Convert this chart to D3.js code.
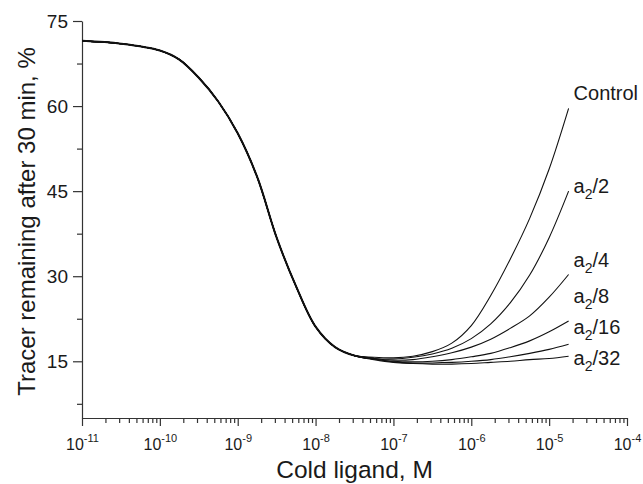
<!DOCTYPE html>
<html>
<head>
<meta charset="utf-8">
<script src="https://cdn.jsdelivr.net/npm/d3@7"></script>
<style>
body { margin: 0; background: #fff; }
text { font-family: "Liberation Sans", Arial, sans-serif; fill: #1a1a1a; }
.axis path, .axis line { stroke: #333; stroke-width: 1.2; }
</style>
</head>
<body>
<div id="chart"></div>
<script>
// part shared by every curve (log10 of cold ligand, M)
const sharedLog = [-11, -10.5, -10, -9.75, -9.5, -9.25, -9, -8.75, -8.5, -8.25, -8, -7.75, -7.5];
const sharedVal = [71.5, 71.0, 69.8, 68.2, 65.0, 60.8, 55.2, 47.5, 36.8, 28.2, 21.1, 17.5, 16.0];

// where the curves split apart
const tailLog = [-7.25, -7, -6.75, -6.5, -6.25, -6, -5.75, -5.5, -5.25, -5, -4.75];
const control = [15.7, 15.6, 15.9, 16.7, 18.2, 21.3, 26.6, 33.0, 40.2, 48.9, 59.6];
const a2by2   = [15.5, 15.4, 15.7, 16.3, 17.3, 19.0, 21.6, 25.3, 30.2, 36.8, 45.0];
const a2by4   = [15.5, 15.2, 15.3, 15.8, 16.5, 17.5, 18.9, 20.8, 23.0, 26.3, 30.3];
const a2by8   = [15.4, 15.0, 14.9, 15.0, 15.3, 15.8, 16.4, 17.4, 18.6, 20.2, 22.1];
const a2by16  = [15.4, 14.9, 14.7, 14.7, 14.8, 15.0, 15.3, 15.8, 16.4, 17.1, 18.0];
const a2by32  = [15.3, 14.8, 14.6, 14.5, 14.5, 14.6, 14.8, 15.0, 15.3, 15.5, 15.9];

const seriesNames = ['Control', '2', '4', '8', '16', '32'];
const seriesVals = [control, a2by2, a2by4, a2by8, a2by16, a2by32];
// label baselines in data units
const labelVal = [61.1, 44.7, 31.6, 25.3, 19.8, 14.3];

const yMajor = [15, 30, 45, 60, 75];
const yMinor = [7.5, 22.5, 37.5, 52.5, 67.5];
const xDecades = [-11, -10, -9, -8, -7, -6, -5, -4];

const width = 643;
const height = 484;
const margin = {top: 21, right: 16, bottom: 66, left: 82};

const svg = d3.select('#chart')
    .append('svg')
    .attr('width', width)
    .attr('height', height);

const x = d3.scaleLog()
    .domain([1e-11, 1e-4])
    .range([margin.left, width - margin.right]);

const y = d3.scaleLinear()
    .domain([5, 75])
    .range([height - margin.bottom, margin.top]);

// minor ticks on x: 2..9 in every decade
const xMinor = [];
xDecades.slice(0, -1).forEach(e => {
    for (let k = 2; k <= 9; k++) xMinor.push(k * Math.pow(10, e));
});

// y axis
svg.append('g')
    .attr('class', 'axis')
    .attr('transform', `translate(${margin.left},0)`)
    .call(d3.axisLeft(y).tickValues(yMinor).tickSize(5).tickFormat(''))
    .call(g => g.select('.domain').remove());

const yAxis = svg.append('g')
    .attr('class', 'axis')
    .attr('transform', `translate(${margin.left},0)`)
    .call(d3.axisLeft(y).tickValues(yMajor).tickSize(9).tickSizeOuter(0).tickPadding(5));
yAxis.selectAll('text')
    .style('font-size', '19px')
    .attr('fill', '#1a1a1a');

// x axis
svg.append('g')
    .attr('class', 'axis')
    .attr('transform', `translate(0,${y(5)})`)
    .call(d3.axisBottom(x).tickValues(xMinor).tickSize(5).tickFormat(''))
    .call(g => g.select('.domain').remove());

const xAxis = svg.append('g')
    .attr('class', 'axis')
    .attr('transform', `translate(0,${y(5)})`)
    .call(d3.axisBottom(x)
        .tickValues(xDecades.map(e => Math.pow(10, e)))
        .tickSize(8)
        .tickSizeOuter(0)
        .tickFormat(''));

xAxis.selectAll('.tick').each(function(d, i) {
    const t = d3.select(this).append('text')
        .attr('y', 32)
        .attr('text-anchor', 'middle')
        .attr('fill', '#1a1a1a')
        .style('font-size', '16px');
    t.append('tspan').text('10');
    t.append('tspan')
        .attr('dy', -8)
        .style('font-size', '11px')
        .text(xDecades[i]);
});

// axis titles
svg.append('text')
    .attr('x', (x(1e-11) + x(1e-4)) / 2)
    .attr('y', 478)
    .attr('text-anchor', 'middle')
    .style('font-size', '24.5px')
    .text('Cold ligand, M');

svg.append('text')
    .attr('transform', `translate(35,${(y(5) + y(75)) / 2 + 2}) rotate(-90)`)
    .attr('text-anchor', 'middle')
    .style('font-size', '24px')
    .text('Tracer remaining after 30 min, %');

// curves
const line = d3.line()
    .x(d => x(Math.pow(10, d[0])))
    .y(d => y(d[1]))
    .curve(d3.curveCatmullRom.alpha(0.5));

const sharedPts = sharedLog.map((e, i) => [e, sharedVal[i]]);

seriesVals.forEach(vals => {
    const pts = sharedPts.concat(tailLog.map((e, i) => [e, vals[i]]));
    svg.append('path')
        .datum(pts)
        .attr('fill', 'none')
        .attr('stroke', '#111')
        .attr('stroke-width', 1.1)
        .attr('d', line);
});

// the shared part looks thicker because all six lines sit on it
svg.append('path')
    .datum(sharedPts.concat([[tailLog[0], 15.5]]))
    .attr('fill', 'none')
    .attr('stroke', '#111')
    .attr('stroke-width', 2)
    .attr('d', line);

// labels at the right
const labelX = x(Math.pow(10, tailLog[tailLog.length - 1])) + 5;
seriesNames.forEach((name, i) => {
    const t = svg.append('text')
        .attr('x', labelX)
        .attr('y', y(labelVal[i]))
        .style('font-size', '20px');
    if (name === 'Control') {
        t.text(name);
    } else {
        t.append('tspan').text('a');
        t.append('tspan').attr('dy', 6).style('font-size', '14px').text('2');
        t.append('tspan').attr('dy', -6).text('/' + name);
    }
});
</script>
</body>
</html>
